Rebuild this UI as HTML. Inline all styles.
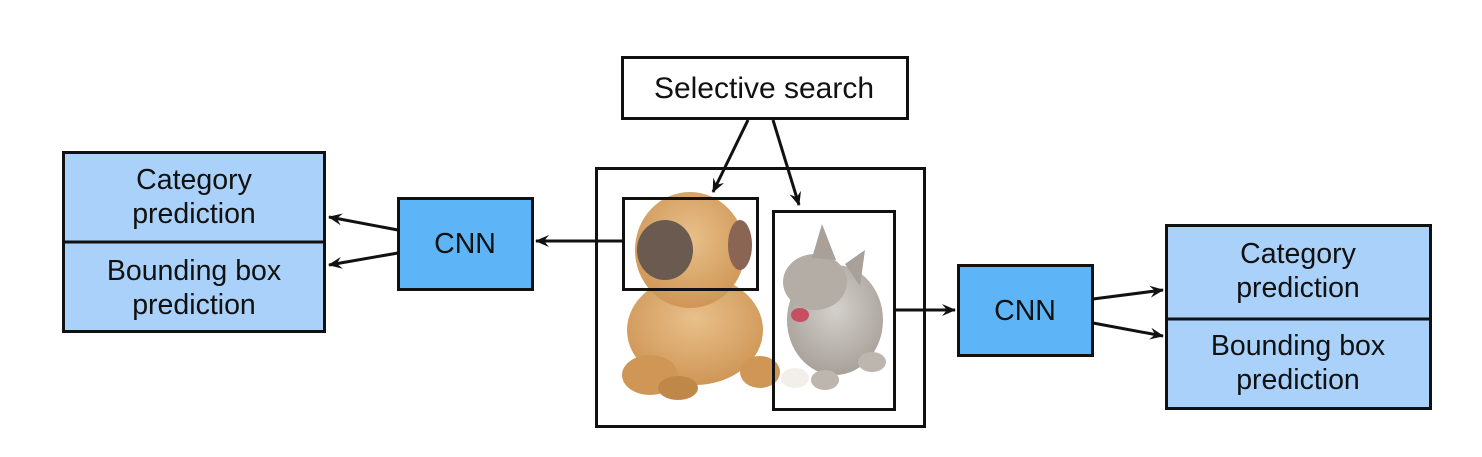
<!DOCTYPE html>
<html><head><meta charset="utf-8"><style>
html,body{margin:0;padding:0;background:#fff;}
svg{display:block;}
text{font-family:"Liberation Sans",Arial,sans-serif;fill:#111;text-anchor:middle;}
</style></head><body>
<svg width="1482" height="457" viewBox="0 0 1482 457" xmlns="http://www.w3.org/2000/svg">
<defs>
<marker id="ah" viewBox="0 0 14 12" refX="13" refY="6" markerWidth="14" markerHeight="12" markerUnits="userSpaceOnUse" orient="auto">
<path d="M0,0 L14,6 L0,12 L5,6 z" fill="#111"/>
</marker>
<radialGradient id="dog" cx="0.5" cy="0.4" r="0.6"><stop offset="0" stop-color="#e8c08a"/><stop offset="1" stop-color="#cf9656"/></radialGradient>
<radialGradient id="cat" cx="0.5" cy="0.4" r="0.6"><stop offset="0" stop-color="#d4d0cb"/><stop offset="1" stop-color="#a8a19a"/></radialGradient>
</defs>

<rect x="622.5" y="57.5" width="285" height="61" fill="#fff" stroke="#111" stroke-width="3"/>
<text x="764" y="98" font-size="30">Selective search</text>

<rect x="596.5" y="168.5" width="328" height="258" fill="#fff" stroke="#111" stroke-width="3"/>
<!-- dog -->
<ellipse cx="695" cy="330" rx="68" ry="55" fill="url(#dog)"/>
<ellipse cx="690" cy="250" rx="55" ry="58" fill="url(#dog)"/>
<ellipse cx="665" cy="250" rx="28" ry="30" fill="#6a5a50"/>
<ellipse cx="740" cy="245" rx="12" ry="25" fill="#8a6553"/>
<ellipse cx="650" cy="375" rx="28" ry="20" fill="#cf9656"/>
<ellipse cx="678" cy="388" rx="20" ry="12" fill="#c08848"/>
<ellipse cx="760" cy="372" rx="20" ry="16" fill="#cf9656"/>
<!-- cat -->
<ellipse cx="835" cy="320" rx="48" ry="55" fill="url(#cat)"/>
<ellipse cx="815" cy="282" rx="32" ry="28" fill="#b3ada6"/>
<polygon points="812,258 822,224 836,260" fill="#a8a099"/>
<polygon points="845,264 865,250 860,286" fill="#a8a099"/>
<ellipse cx="800" cy="315" rx="9" ry="7" fill="#c65060"/>
<ellipse cx="795" cy="378" rx="14" ry="10" fill="#f2efea"/>
<ellipse cx="825" cy="380" rx="14" ry="10" fill="#bdb6ae"/>
<ellipse cx="872" cy="362" rx="14" ry="10" fill="#bdb6ae"/>

<rect x="623.5" y="198.5" width="134" height="91" fill="none" stroke="#111" stroke-width="3"/>
<rect x="773.5" y="211.5" width="121" height="198" fill="none" stroke="#111" stroke-width="3"/>

<rect x="63.5" y="152.5" width="261" height="179" fill="#a9d1f9" stroke="#111" stroke-width="3"/>
<line x1="63" y1="242" x2="325" y2="242" stroke="#111" stroke-width="3"/>
<text x="194" y="189" font-size="28.5">Category</text>
<text x="194" y="223" font-size="28.5">prediction</text>
<text x="194" y="280" font-size="28.5">Bounding box</text>
<text x="194" y="314" font-size="28.5">prediction</text>

<rect x="398.5" y="198.5" width="134" height="91" fill="#5db4f6" stroke="#111" stroke-width="3"/>
<text x="465" y="253" font-size="28.5">CNN</text>

<rect x="958.5" y="265.5" width="134" height="90" fill="#5db4f6" stroke="#111" stroke-width="3"/>
<text x="1025" y="320" font-size="28.5">CNN</text>

<rect x="1166.5" y="225.5" width="264" height="183" fill="#a9d1f9" stroke="#111" stroke-width="3"/>
<line x1="1166" y1="319" x2="1431" y2="319" stroke="#111" stroke-width="3"/>
<text x="1298" y="263" font-size="28.5">Category</text>
<text x="1298" y="297" font-size="28.5">prediction</text>
<text x="1298" y="355" font-size="28.5">Bounding box</text>
<text x="1298" y="389" font-size="28.5">prediction</text>

<g stroke="#111" stroke-width="3" fill="none" marker-end="url(#ah)">
<line x1="748" y1="120" x2="713" y2="192"/>
<line x1="773" y1="120" x2="799" y2="205"/>
<line x1="623" y1="241" x2="536" y2="241"/>
<line x1="894" y1="310" x2="955" y2="310"/>
<line x1="398" y1="230" x2="329" y2="217"/>
<line x1="398" y1="253" x2="329" y2="265"/>
<line x1="1093" y1="299" x2="1163" y2="290"/>
<line x1="1093" y1="323" x2="1163" y2="336"/>
</g>
</svg>
</body></html>
